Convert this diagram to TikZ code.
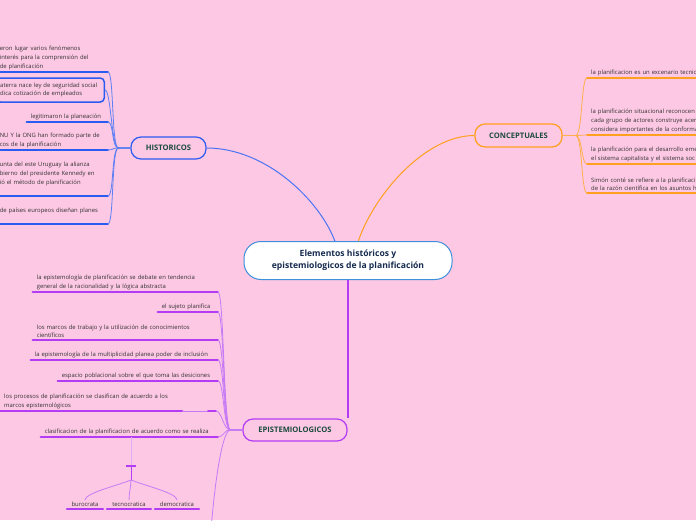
\documentclass[tikz,border=0pt]{standalone}
\usepackage{fontspec}
\setmainfont{Open Sans}
\usepackage{tikz}
\usetikzlibrary{positioning, calc}

\definecolor{bgpink}{HTML}{FDC8E4}
\definecolor{histblue}{HTML}{2B5CF2}
\definecolor{histline}{HTML}{5B7FF4}
\definecolor{concorange}{HTML}{FFA01E}
\definecolor{concline}{HTML}{FFB04D}
\definecolor{epipurple}{HTML}{B43CF4}
\definecolor{epiline}{HTML}{C67AF6}
\definecolor{centerblue}{HTML}{3F8FDB}
\definecolor{labelgreen}{HTML}{1B4B3E}
\definecolor{leaftext}{HTML}{333333}
\definecolor{centertext}{HTML}{152A4E}

\begin{document}
\begin{tikzpicture}[x=1pt, y=-1pt]
        \tikzstyle{centre} = [rectangle, draw=centerblue, line width=1pt, fill=white, rounded corners=17pt, minimum width=208pt, minimum height=38pt, align=center, text=centertext, font=\fontsize{8.6}{12}\selectfont\bfseries]
        \tikzstyle{topic} = [rectangle, draw, line width=1.2pt, rounded corners=10pt, fill=bgpink, text=labelgreen, font=\fontsize{7.6}{9}\selectfont\bfseries, minimum height=22pt, inner sep=0pt]
        \tikzstyle{leaf} = [text=leaftext, font=\fontsize{5.9}{8.7}\selectfont, align=left, inner xsep=4pt, inner ysep=2pt]
        \tikzstyle{histunder} = [draw=histblue, line width=1.8pt, line cap=round]
        \tikzstyle{histwire} = [draw=histline, line width=0.8pt]
        \tikzstyle{concunder} = [draw=concorange, line width=1.8pt, line cap=round]
        \tikzstyle{concwire} = [draw=concline, line width=0.8pt]
        \tikzstyle{epiunder} = [draw=epipurple, line width=1.8pt, line cap=round]
        \tikzstyle{epiwire} = [draw=epiline, line width=0.8pt]

        \useasboundingbox (0,0) rectangle (696,520);
        \clip (0,0) rectangle (696,520);
        \fill[bgpink] (0,0) rectangle (696,520);

        % main topics
        \node [centre] (central) at (348,260.5) {Elementos históricos y\\epistemiologicos de la planificación};
        \node [topic, draw=histblue, minimum width=75pt] (hist) at (168.5,148) {HISTORICOS};
        \node [topic, draw=concorange, minimum width=87pt, minimum height=23pt] (conc) at (518.5,135.5) {CONCEPTUALES};
        \node [topic, draw=epipurple, minimum width=104pt] (epist) at (295,430) {EPISTEMIOLOGICOS};

        \draw [draw=histblue!85, line width=1pt] (hist.east) .. controls +(60,0) and +(-15,-40) .. (central.124);
        \draw [draw=concorange, line width=1pt] (central.62) .. controls +(15,-45) and +(-50,0) .. (conc.west);
        \draw [draw=epipurple, line width=1.3pt] (central.south) -- (central.south |- epist.north);

        % historicos
        \node [leaf, anchor=south east, text width=104pt] (h1) at (108,72) {eron lugar varios fenómenos\\interés para la comprensión del\\de planificación};
        \node [leaf, anchor=east, text width=100pt, minimum height=24pt, draw=histblue, line width=1.5pt, rounded corners=4pt] (h2) at (105,90) {aterra nace ley de seguridad social\\dica cotización de empleados};
        \node [leaf, anchor=south east, text width=73pt] (h3) at (108,122) {legitimaron la planeación};
        \node [leaf, anchor=south east, text width=104pt] (h4) at (108,150) {NU Y la ONG han formado parte de\\cos de la planificación};
        \node [leaf, anchor=south east, text width=104pt] (h5) at (108,196) {unta del este Uruguay la alianza\\bierno del presidente Kennedy en\\ió el método de planificación\par\vspace*{8pt}};
        \node [leaf, anchor=south east, text width=104pt] (h6) at (108,224) {de países europeos diseñan planes\par\vspace*{8pt}};

        \foreach \n in {h1,h3,h4,h5,h6} {
            \draw [histunder] (\n.south west) -- (\n.south east);
            \draw [histwire] (hist.west) -- ++(-12,0) .. controls +(-7,0) and +(6,0) .. (\n.south east);
        }
        \draw [histwire] (hist.west) -- ++(-12,0) .. controls +(-7,0) and +(6,0) .. (h2.east);

        % conceptuales
        \node [leaf, anchor=south west, text width=200pt] (c1) at (587,78) {la planificacion es un excenario tecnic};
        \node [leaf, anchor=south west, text width=200pt] (c2) at (587,135) {la planificación situacional reconocen\\cada grupo de actores construye acer\\considera importantes de la conforma};
        \node [leaf, anchor=south west, text width=200pt] (c3) at (587,164) {la planificación para el desarrollo eme\\el sistema capitalista y el sistema soc};
        \node [leaf, anchor=south west, text width=200pt] (c4) at (587,193) {Simón conté se refiere a la planificaci\\de la razón científica en los asuntos h};

        \foreach \n in {c1,c2,c3,c4} {
            \draw [concunder] (\n.south west) -- (\n.south east);
            \draw [concwire] (conc.east) -- ++(13,0) .. controls +(7,0) and +(-6,0) .. (\n.south west);
        }

        % epistemiologicos
        \node [leaf, anchor=south east, text width=177pt] (e1) at (218,292) {la epistemología de planificación se debate en tendencia\\general de la racionalidad y la lógica abstracta};
        \node [leaf, anchor=south east, text width=52pt] (e2) at (218,312) {el sujeto planifica};
        \node [leaf, anchor=south east, text width=177pt] (e3) at (218,340) {los marcos de trabajo y la utilización de conocimientos\\científicos};
        \node [leaf, anchor=south east, text width=179pt] (e4) at (218,360) {la epistemología de la multiplicidad planea poder de inclusión};
        \node [leaf, anchor=south east, text width=152pt] (e5) at (218,381) {espacio poblacional sobre el que toma las desiciones};
        \node [leaf, anchor=south west, text width=174pt] (e6) at (0,411) {los procesos de planificación se clasifican de acuerdo a los\\marcos epistemológicos};
        \node [leaf, anchor=south east, text width=169pt] (e7) at (218,437) {clasificacion de la planificacion de acuerdo como se realiza};
        \coordinate (e6x) at (216,411);
        \coordinate (offpage) at (211,530);

        \foreach \n in {e1,e2,e3,e4,e5,e7} {
            \draw [epiunder] (\n.south west) -- (\n.south east);
            \draw [epiwire] (epist.west) -- ++(-12,0) .. controls +(-7,0) and +(6,0) .. (\n.south east);
        }
        \draw [epiunder] (e6.south west) -- (e6.south east);
        \draw [epiwire] (e6.south east) -- (e6x);
        \draw [epiunder] ($(e6x)+(-8,0)$) -- (e6x);
        \draw [epiwire] (epist.west) -- ++(-12,0) .. controls +(-7,0) and +(6,0) .. (e6x);
        \draw [epiwire] (epist.west) -- ++(-12,0) .. controls +(-8,0) and +(4,-50) .. (offpage);

        % clasificacion
        \node [leaf, anchor=south, minimum width=36pt] (b1) at (85,509) {burocrata};
        \node [leaf, anchor=south, minimum width=44pt] (b2) at (129,509) {tecnocratica};
        \node [leaf, anchor=south, minimum width=44pt] (b3) at (177,509) {democratica};
        \coordinate (split) at (131,466);
        \coordinate (fork) at (131,480);

        \draw [epiwire, draw=epiline!60] (e7.south -| split) -- (split);
        \draw [epiunder, line cap=butt] ($(split)+(-5,0)$) -- ($(split)+(5,0)$);
        \draw [draw=epipurple, line width=1pt] (split) -- (fork);
        \foreach \b/\dx in {b1/-15, b2/0, b3/15} {
            \draw [epiunder] (\b.south west) -- (\b.south east);
            \draw [epiwire] (fork) .. controls +(\dx,6) and +(0,-7) .. (\b.north);
        }
    \end{tikzpicture}
\end{document}
